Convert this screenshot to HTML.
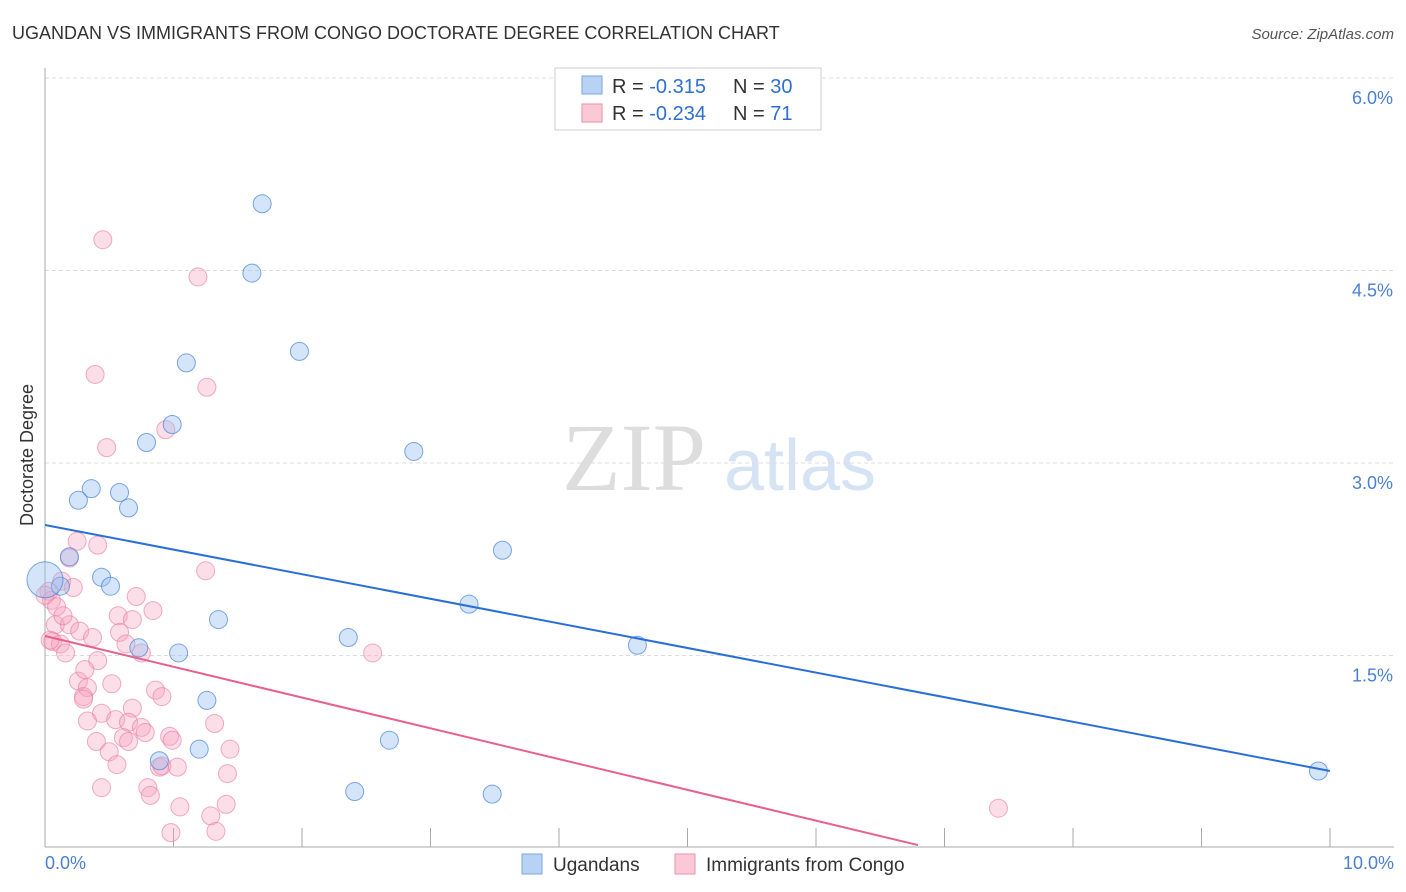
<!DOCTYPE html>
<html><head><meta charset="utf-8"><style>
body{margin:0;background:#fff;font-family:"Liberation Sans",sans-serif}
svg{display:block}
</style></head><body>
<svg id="chart" width="1406" height="892">
<text x="12" y="39" font-size="18" fill="#333">UGANDAN VS IMMIGRANTS FROM CONGO DOCTORATE DEGREE CORRELATION CHART</text>
<text x="1394" y="39" font-size="15" fill="#555" font-style="italic" text-anchor="end">Source: ZipAtlas.com</text>
<g>
<text x="634" y="490" font-size="96" fill="#ddd" font-family="Liberation Serif,serif" text-anchor="middle">ZIP</text>
<text x="800" y="490" font-size="72" fill="#d5e3f5" text-anchor="middle">atlas</text>
</g>
<g id="grid"></g>
<g id="ticks"></g>
<line x1="45" y1="68" x2="45" y2="847" stroke="#aaa"/>
<line x1="45" y1="847" x2="1394" y2="847" stroke="#aaa"/>
<text transform="translate(33,455) rotate(-90)" font-size="18" fill="#333" text-anchor="middle">Doctorate Degree</text>
<text x="45" y="869" font-size="18" fill="#4a7fd4">0.0%</text>
<text x="1394" y="869" font-size="18" fill="#4a7fd4" text-anchor="end">10.0%</text>
<g id="pink"></g>
<g id="blue"></g>
<g id="lines"></g>
<g>
<rect x="555" y="68" width="266" height="62" fill="#fff" stroke="#ccc"/>
<rect x="582" y="76" width="20" height="18" fill="#b8d2f4" stroke="#7aa6e0"/>
<rect x="582" y="104" width="20" height="18" fill="#fbc8d6" stroke="#eb8fab"/>
<text x="612" y="93" font-size="20" fill="#333">R = <tspan fill="#2f6fd0">-0.315</tspan><tspan x="733">N = </tspan><tspan fill="#2f6fd0">30</tspan></text>
<text x="612" y="120" font-size="20" fill="#333">R = <tspan fill="#2f6fd0">-0.234</tspan><tspan x="733">N = </tspan><tspan fill="#2f6fd0"> 71</tspan></text>
</g>
<g>
<rect x="522" y="854" width="20" height="20" fill="#b8d2f4" stroke="#7aa6e0"/>
<text x="553" y="871" font-size="19" fill="#333">Ugandans</text>
<rect x="675" y="854" width="20" height="20" fill="#fbc8d6" stroke="#eb8fab"/>
<text x="706" y="871" font-size="19" fill="#333">Immigrants from Congo</text>
</g>
</svg>
<script>
const yTicks=[1.5,3.0,4.5,6.0];
const xTicks=[1,2,3,4,5,6,7,8,9,10];
const blueX=[1.69,1.61,1.1,1.98,0.99,0.79,2.87,0.36,0.26,0.58,0.65,3.56,0.19,0.44,0.51,0.12,0.0,3.3,1.35,0.73,2.36,1.04,4.61,1.26,1.2,0.89,2.68,2.41,3.48,9.91];
const blueY=[5.02,4.48,3.78,3.87,3.3,3.16,3.09,2.8,2.71,2.77,2.65,2.32,2.27,2.11,2.04,2.04,2.09,1.9,1.78,1.56,1.64,1.52,1.58,1.15,0.77,0.68,0.84,0.44,0.42,0.60];
const blueR=[9,9,9,9,9,9,9,9,9,9,9,9,9,9,9,9,18,9,9,9,9,9,9,9,9,9,9,9,9,9];
const pinkX=[0.45,1.19,0.39,1.26,0.48,0.94,0.41,0.25,0.19,0.13,0.22,0.03,0.05,0.09,1.25,0.71,0.84,0.57,0.68,0.58,0.08,0.19,0.27,0.37,0.06,0.12,0.16,0.63,0.75,2.55,0.26,0.33,0.30,0.52,0.86,0.91,0.30,0.44,0.68,0.33,0.55,0.65,0.75,0.78,1.32,0.40,0.61,0.65,0.97,0.99,1.44,0.50,0.56,0.89,0.91,1.03,1.42,0.44,0.80,1.05,1.41,1.29,0.98,1.33,7.42,0.0,0.04,0.41,0.14,0.82,0.31];
const pinkY=[4.74,4.45,3.69,3.59,3.12,3.26,2.36,2.39,2.26,2.08,2.03,2.0,1.93,1.88,2.16,1.96,1.85,1.81,1.78,1.68,1.74,1.74,1.69,1.64,1.61,1.59,1.52,1.59,1.52,1.52,1.30,1.25,1.18,1.28,1.23,1.18,1.16,1.05,1.09,0.99,1.0,0.98,0.94,0.90,0.97,0.83,0.86,0.83,0.87,0.84,0.77,0.75,0.65,0.63,0.64,0.63,0.58,0.47,0.47,0.32,0.34,0.25,0.12,0.13,0.31,1.97,1.62,1.46,1.81,0.41,1.39];
const trendIntercept=[2.517,1.652];
const trendSlope=[-0.1917,-0.2398];
const trendEnd=[10.0,6.794];
const X=v=>45+v*128.5, Y=v=>848-v*128.33;
const NS='http://www.w3.org/2000/svg';
function mk(tag,attrs,parent){const e=document.createElementNS(NS,tag);for(const k in attrs)e.setAttribute(k,attrs[k]);document.getElementById(parent).appendChild(e);return e;}
yTicks.forEach(t=>{
 const l=mk('line',{x1:45,x2:1394,y1:Y(t),y2:Y(t),stroke:'#ddd','stroke-dasharray':'4,3'},'grid');
 
 
 const tx=mk('text',{x:1393,y:Y(t)+26,'font-size':18,fill:'#4a7fd4','text-anchor':'end'},'grid');
 tx.textContent=t.toFixed(1)+'%';
 
 
});
xTicks.forEach(t=>{
 const l=mk('line',{x1:X(t),x2:X(t),y1:828,y2:847,stroke:'#aaa'},'ticks');
 
 
});
pinkX.forEach((v,i)=>{
 const c=mk('circle',{cx:X(v),cy:Y(pinkY[i]),r:9,fill:'rgba(246,160,188,0.35)',stroke:'rgba(232,120,155,0.6)','stroke-width':1},'pink');
 
 
});
blueX.forEach((v,i)=>{
 const c=mk('circle',{cx:X(v),cy:Y(blueY[i]),r:blueR[i],fill:'rgba(150,190,240,0.4)',stroke:'rgba(70,130,215,0.7)','stroke-width':1},'blue');
 
 
});
const cols=['#2a6fd6','#e8608c'];
const names=['ugandan-trendline','congo-trendline'];
trendIntercept.forEach((b,i)=>{
 const l=mk('line',{x1:X(0),y1:Y(b),x2:X(trendEnd[i]),y2:Y(b+trendSlope[i]*trendEnd[i]),stroke:cols[i],'stroke-width':2},'lines');
 
 
});
</script>
</body></html>
